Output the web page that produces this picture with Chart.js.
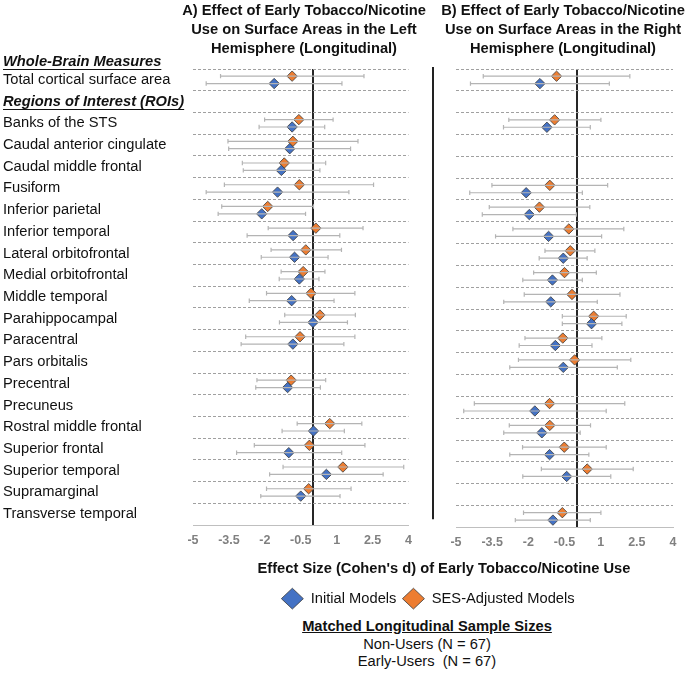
<!DOCTYPE html>
<html>
<head>
<meta charset="utf-8">
<script src="https://cdn.jsdelivr.net/npm/chart.js@4.4.1/dist/chart.umd.min.js"></script>
<style>
  html, body { margin: 0; padding: 0; background: #fff; }
  body { width: 687px; height: 673px; position: relative; overflow: hidden;
         font-family: "Liberation Sans", Arial, sans-serif; color: #111; }
  canvas { position: absolute; top: 0; }
  #leftChart { left: 0; }
  #rightChart { left: 183px; }
  .txt { position: absolute; text-align: center; white-space: pre; font-size: 14.7px; }
  .title { font-weight: bold; line-height: 19px; width: 300px; top: 1px; }
  #leftTitle { left: 154px; }
  #rightTitle { left: 413px; }
  #axisTitle { left: 244px; width: 400px; top: 559px; font-weight: bold; line-height: 19px; }
  #samples { left: 277px; width: 300px; top: 618px; line-height: 17.5px; }
  #samples b { text-decoration: underline; }
</style>
</head>
<body>
<canvas id="leftChart" width="420" height="560"></canvas>
<canvas id="rightChart" width="504" height="616"></canvas>
<div class="txt title" id="leftTitle">A) Effect of Early Tobacco/Nicotine
Use on Surface Areas in the Left
Hemisphere (Longitudinal)</div>
<div class="txt title" id="rightTitle">B) Effect of Early Tobacco/Nicotine
Use on Surface Areas in the Right
Hemisphere (Longitudinal)</div>
<div class="txt" id="axisTitle">Effect Size (Cohen's d) of Early Tobacco/Nicotine Use</div>
<div class="txt" id="samples"><b>Matched Longitudinal Sample Sizes</b>
Non-Users (N = 67)
Early-Users  (N = 67)</div>
<script>
// rows top to bottom; null = no estimate shown for that row
const topHeader = "Whole-Brain Measures";
const roiHeader = "Regions of Interest (ROIs)";
const rowLabels = [
  "Total cortical surface area", roiHeader,
  "Banks of the STS", "Caudal anterior cingulate", "Caudal middle frontal",
  "Fusiform", "Inferior parietal", "Inferior temporal", "Lateral orbitofrontal",
  "Medial orbitofrontal", "Middle temporal", "Parahippocampal", "Paracentral",
  "Pars orbitalis", "Precentral", "Precuneus", "Rostral middle frontal",
  "Superior frontal", "Superior temporal", "Supramarginal", "Transverse temporal"
];
const xTickValues = [-5, -3.5, -2, -0.5, 1, 2.5, 4];

// A) left hemisphere
const leftInitD  = [-1.61, null, -0.86, -0.96, -1.31, -1.47, -2.13, -0.82, -0.76, -0.56, -0.88, 0.01, -0.83, null, -1.05, null, 0.03, -1.0, 0.57, -0.5, null];
const leftInitLo = [-4.45, null, -2.24, -3.51, -2.9, -4.45, -3.95, -2.74, -2.15, -1.4, -2.65, -1.39, -2.99, null, -2.38, null, -1.28, -3.18, -1.8, -2.17, null];
const leftInitHi = [1.22, null, 0.5, 1.58, 0.3, 1.51, -0.3, 1.13, 0.64, 0.26, 0.89, 1.45, 1.3, null, 0.32, null, 1.32, 1.21, 2.94, 1.14, null];
const leftSesD   = [-0.86, null, -0.58, -0.83, -1.19, -0.56, -1.88, 0.13, -0.29, -0.4, -0.07, 0.3, -0.53, null, -0.9, null, 0.71, -0.14, 1.26, -0.17, null];
const leftSesLo  = [-3.85, null, -2.01, -3.54, -2.94, -3.69, -3.8, -1.86, -1.74, -1.32, -1.93, -1.17, -2.8, null, -2.33, null, -0.65, -2.44, -1.24, -1.93, null];
const leftSesHi  = [2.14, null, 0.85, 1.89, 0.54, 2.54, 0.03, 2.1, 1.2, 0.51, 1.76, 1.78, 1.76, null, 0.54, null, 2.05, 2.18, 3.8, 1.6, null];

// B) right hemisphere
const rightInitD  = [-1.52, null, -1.23, null, null, -2.09, -1.96, -1.16, -0.55, -1.0, -1.07, 0.62, -0.88, -0.55, null, -1.73, -1.44, -1.12, -0.41, null, -0.98];
const rightInitLo = [-4.4, null, -3.03, null, null, -4.43, -3.91, -3.36, -1.55, -2.23, -3.02, -0.59, -2.38, -2.77, null, -4.68, -3.02, -2.77, -2.23, null, -2.54];
const rightInitHi = [1.36, null, 0.57, null, null, 0.24, -0.01, 1.04, 0.44, 0.24, 0.86, 1.88, 0.64, 1.69, null, 1.23, 0.15, 0.51, 1.42, null, 0.57];
const rightSesD   = [-0.83, null, -0.91, null, null, -1.11, -1.54, -0.32, -0.26, -0.5, -0.19, 0.71, -0.57, -0.08, null, -1.12, -1.11, -0.51, 0.44, null, -0.59];
const rightSesLo  = [-3.87, null, -2.81, null, null, -3.51, -3.62, -2.64, -1.31, -1.78, -2.17, -0.59, -2.14, -2.41, null, -4.24, -2.79, -2.24, -1.46, null, -2.2];
const rightSesHi  = [2.21, null, 1.01, null, null, 1.29, 0.55, 1.96, 0.76, 0.82, 1.8, 2.06, 1.05, 2.25, null, 2.0, 0.58, 1.23, 2.35, null, 1.01];

const FONT = "'Liberation Sans', Arial, sans-serif";
const LABEL_SIZE = 14.7;
const BLUE = "#4472c4";
const ORANGE = "#ed7d31";
const EDGE = "#3a3a3a";
const CI_COLOR = "#b4b4b4";
const DASH_COLOR = "#a0a0a0";
const ZERO_COLOR = "#262626";
const SES_SHIFT = -0.17;   // SES point sits a bit above the row centre
const INIT_SHIFT = 0.17;   // initial model point a bit below
const TOP_HEADER_POS = -0.82;

Chart.defaults.font.family = FONT;

function ciPoints(lo, hi, shift) {
  const pts = [];
  lo.forEach((v, i) => {
    if (v === null) return;
    pts.push({ x: v, y: i + shift }, { x: hi[i], y: i + shift }, { x: null, y: null });
  });
  return pts;
}

function markPoints(d, shift) {
  return d.flatMap((v, i) => (v === null ? [] : [{ x: v, y: i + shift }]));
}

function ciSet(label, lo, hi, shift) {
  return {
    label: label, data: ciPoints(lo, hi, shift), showLine: true, ci: true,
    borderColor: CI_COLOR, borderWidth: 1.2,
    pointStyle: "line", pointRotation: 90, pointRadius: 2.2,
    pointBorderColor: CI_COLOR, pointBorderWidth: 1.2
  };
}

function markSet(label, d, shift, color) {
  return {
    label: label, data: markPoints(d, shift),
    pointStyle: "rectRot", pointRadius: 5.2,
    backgroundColor: color, borderColor: EDGE, borderWidth: 0.8
  };
}

function panelDatasets(initD, initLo, initHi, sesD, sesLo, sesHi) {
  return [
    ciSet("Initial Models CI", initLo, initHi, INIT_SHIFT),
    ciSet("SES-Adjusted Models CI", sesLo, sesHi, SES_SHIFT),
    markSet("Initial Models", initD, INIT_SHIFT, BLUE),
    markSet("SES-Adjusted Models", sesD, SES_SHIFT, ORANGE)
  ];
}

function buildRowTicks(scale) {
  const ticks = [{ value: TOP_HEADER_POS, kind: "header", text: topHeader }];
  rowLabels.forEach((name, i) => {
    ticks.push({ value: i - 0.5, kind: "line", text: "" });
    ticks.push({ value: i, kind: name === roiHeader ? "header" : "row", text: name });
  });
  scale.ticks = ticks;
}

function yScale(showLabels, width) {
  return {
    type: "linear", reverse: true, min: -0.5, max: rowLabels.length - 0.5,
    afterBuildTicks: buildRowTicks,
    afterFit: s => { s.width = width; },
    border: { display: false, dash: [3, 2] },
    grid: {
      color: c => (c.tick && c.tick.kind === "line" ? DASH_COLOR : "transparent"),
      lineWidth: 1, drawTicks: false
    },
    ticks: {
      display: showLabels, autoSkip: false, crossAlign: "far", padding: 0, color: "#111",
      callback: (v, i, ticks) => ticks[i].text,
      font: c => {
        const head = c.tick && c.tick.kind === "header";
        return { size: LABEL_SIZE, style: head ? "italic" : "normal", weight: head ? "bold" : "normal" };
      }
    }
  };
}

function xScale(height) {
  return {
    type: "linear", min: xTickValues[0], max: xTickValues[xTickValues.length - 1],
    afterBuildTicks: s => {
      s.ticks = [...xTickValues, 0].sort((a, b) => a - b).map(v => ({ value: v }));
    },
    afterFit: s => { s.height = height; },
    border: { color: "#bfbfbf", width: 1 },
    grid: {
      color: c => (c.tick && c.tick.value === 0 ? ZERO_COLOR : "transparent"),
      lineWidth: c => (c.tick && c.tick.value === 0 ? 2 : 1),
      drawTicks: false
    },
    ticks: {
      autoSkip: false, maxRotation: 0, padding: 8, color: "#808080",
      font: { size: 12.5, weight: "bold" },
      callback: v => (v === 0 ? "" : String(v))
    }
  };
}

// underline the two section headings in the label column
const headerUnderline = {
  id: "headerUnderline",
  afterDraw(chart) {
    const s = chart.scales.y;
    const c = chart.ctx;
    c.save();
    c.strokeStyle = "#111";
    c.lineWidth = 1.2;
    c.font = "italic bold " + LABEL_SIZE + "px " + FONT;
    s.ticks.forEach(t => {
      if (t.kind !== "header") return;
      const y = Math.round(s.getPixelForValue(t.value) + 7) + 0.5;
      c.beginPath();
      c.moveTo(s.left, y);
      c.lineTo(s.left + c.measureText(t.text).width, y);
      c.stroke();
    });
    c.restore();
  }
};

// black rule that separates panel B from panel A
const panelDivider = {
  id: "panelDivider",
  beforeDatasetsDraw(chart) {
    const { ctx, chartArea: a } = chart;
    ctx.save();
    ctx.strokeStyle = "#222";
    ctx.lineWidth = 2;
    ctx.beginPath();
    ctx.moveTo(a.left - 23, a.top - 2);
    ctx.lineTo(a.left - 23, a.bottom - 8);
    ctx.stroke();
    ctx.restore();
  }
};

new Chart(document.getElementById("leftChart"), {
  type: "scatter",
  data: { datasets: panelDatasets(leftInitD, leftInitLo, leftInitHi, leftSesD, leftSesLo, leftSesHi) },
  options: {
    responsive: false,
    animation: false,
    layout: { padding: { left: 3, right: 8, top: 69, bottom: 10 } },
    plugins: { legend: { display: false }, tooltip: { enabled: false } },
    scales: { x: xScale(25), y: yScale(true, 190) }
  },
  plugins: [headerUnderline]
});

new Chart(document.getElementById("rightChart"), {
  type: "scatter",
  data: { datasets: panelDatasets(rightInitD, rightInitLo, rightInitHi, rightSesD, rightSesLo, rightSesHi) },
  options: {
    responsive: false,
    animation: false,
    layout: { padding: { left: 0, right: 14, top: 69, bottom: 0 } },
    plugins: {
      tooltip: { enabled: false },
      legend: {
        position: "bottom",
        labels: {
          usePointStyle: true, pointStyleWidth: 22, padding: 6,
          color: "#111", font: { size: LABEL_SIZE },
          filter: item => !item.text.endsWith("CI")
        }
      }
    },
    scales: { x: xScale(58), y: yScale(false, 273) }
  },
  plugins: [panelDivider]
});
</script>
</body>
</html>
